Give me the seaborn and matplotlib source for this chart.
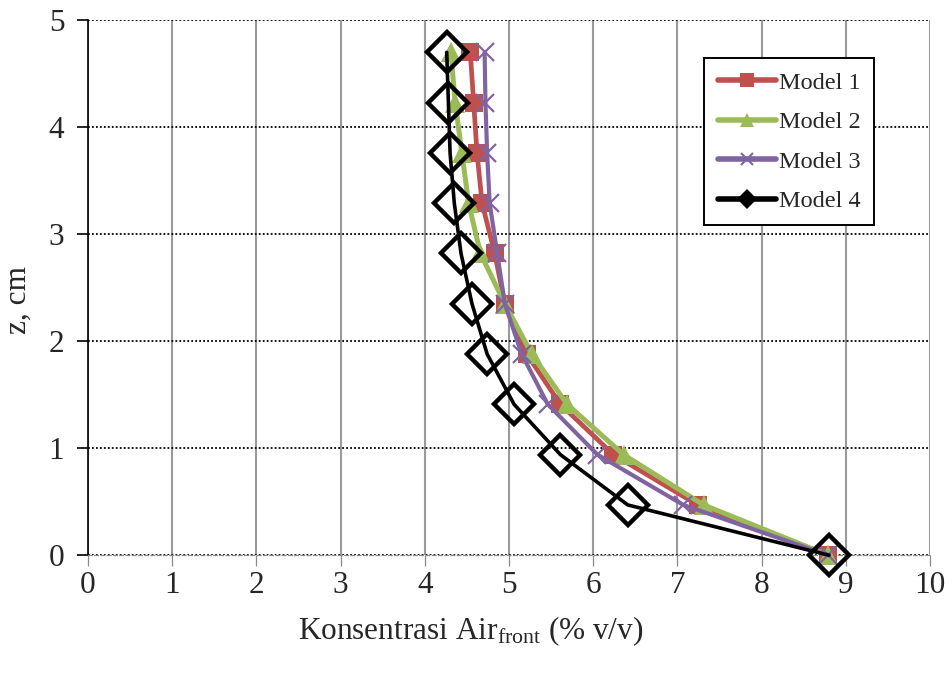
import pandas as pd
import matplotlib
matplotlib.use('Agg')
import matplotlib.pyplot as plt
import seaborn as sns
from matplotlib.lines import Line2D

# Data
z_cm = [0.0, 0.47, 0.94, 1.41, 1.88, 2.35, 2.82, 3.29, 3.76, 4.23, 4.70]
model1 = [8.79, 7.24, 6.24, 5.61, 5.21, 4.95, 4.83, 4.68, 4.62, 4.58, 4.54]
model2 = [8.79, 7.31, 6.36, 5.69, 5.27, 4.95, 4.66, 4.52, 4.44, 4.36, 4.31]
model3 = [8.79, 7.07, 6.05, 5.46, 5.15, 4.95, 4.86, 4.77, 4.74, 4.72, 4.71]
model4 = [8.80, 6.41, 5.61, 5.06, 4.74, 4.56, 4.43, 4.35, 4.30, 4.28, 4.26]
model_names = ['Model 1', 'Model 2', 'Model 3', 'Model 4']
x_ticks = [0, 1, 2, 3, 4, 5, 6, 7, 8, 9, 10]
y_ticks = [0, 1, 2, 3, 4, 5]

sns.set_style('white')
plt.rcParams['font.family'] = ['Liberation Serif', 'DejaVu Serif']
plt.rcParams['mathtext.fontset'] = 'custom'
plt.rcParams['mathtext.rm'] = 'Liberation Serif'
plt.rcParams['mathtext.it'] = 'Liberation Serif:italic'

df = pd.DataFrame({
    'z': z_cm * 4,
    'conc': model1 + model2 + model3 + model4,
    'model': sum([[m] * len(z_cm) for m in model_names], []),
})

styles = {
    'Model 1': dict(color='#C0504D', lw=3.4, marker='s', ms=13, mew=0, mfc='#C0504D'),
    'Model 2': dict(color='#9BBB59', lw=3.6, marker='^', ms=14, mew=0, mfc='#9BBB59'),
    'Model 3': dict(color='#8064A2', lw=3.0, marker='x', ms=13, mew=1.6, mfc='#8064A2'),
    'Model 4': dict(color='black', lw=2.6, marker='D', ms=20, mew=3.2, mfc='none'),
}

fig, ax = plt.subplots(figsize=(9.52, 6.73), dpi=100)
fig.subplots_adjust(left=0.0924, right=0.977, bottom=0.175, top=0.970)

for name in model_names:
    st = styles[name]
    sub = df[df['model'] == name]
    sns.lineplot(data=sub, x='conc', y='z', sort=False, estimator=None, ax=ax,
                 color=st['color'], linewidth=st['lw'], marker=st['marker'],
                 markersize=st['ms'], markeredgewidth=st['mew'],
                 markerfacecolor=st['mfc'], markeredgecolor=st['color'],
                 clip_on=False, zorder=3, legend=False)

ax.set_xlim(0, 10)
ax.set_ylim(0, 5)
ax.set_xticks(x_ticks)
ax.set_yticks(y_ticks)

# gridlines: vertical grey solid, horizontal black dotted
ax.set_axisbelow(True)
ax.xaxis.grid(True, color='#9a9a9a', linestyle='-', linewidth=1.5)
ax.yaxis.grid(True, color='black', linestyle=(0, (1, 1.2)), linewidth=1.3)

for side in ['top', 'right']:
    ax.spines[side].set_visible(False)
ax.spines['left'].set_color('black')
ax.spines['left'].set_linewidth(1.2)
ax.spines['bottom'].set_color('#8a8a8a')
ax.spines['bottom'].set_linewidth(0.9)
ax.spines['bottom'].set_linestyle((0, (3, 2)))

ax.tick_params(axis='y', direction='out', length=8, width=1.2, color='black',
               labelsize=22.5, pad=9, left=True)
ax.tick_params(axis='x', direction='out', length=8, width=0.9, color='#8a8a8a',
               labelsize=22.5, pad=3, bottom=True)

ax.set_xlabel(r'Konsentrasi Air$_{\mathrm{front}}$ (% v/v)', fontsize=22.5)
ax.set_ylabel('z, cm', fontsize=22.5)
ax.xaxis.set_label_coords(0.455, -0.111)
ax.yaxis.set_label_coords(-0.066, 0.477)

handles = [
    Line2D([], [], color='#C0504D', lw=4, marker='s', ms=10, mew=0),
    Line2D([], [], color='#9BBB59', lw=4, marker='^', ms=10, mew=0),
    Line2D([], [], color='#8064A2', lw=4, marker='x', ms=9, mew=1.5),
    Line2D([], [], color='black', lw=4, marker='D', ms=10, mew=0),
]
leg = ax.legend(handles, model_names, loc='upper left', bbox_to_anchor=(0.732, 0.929),
                borderaxespad=0, fontsize=17.5, frameon=True, fancybox=False,
                edgecolor='black', handlelength=2.4, handletextpad=0.1,
                labelspacing=0.72, borderpad=0.55, framealpha=1)
leg.get_frame().set_linewidth(1.4)

plt.savefig('out.png', dpi=100)
plt.close()
